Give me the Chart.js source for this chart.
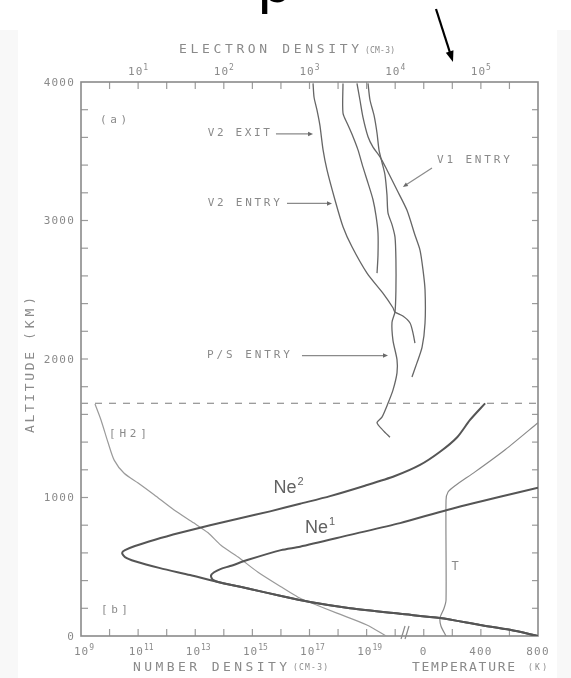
<!DOCTYPE html>
<html>
<head>
<meta charset="utf-8">
<title>Electron and neutral density profiles</title>
<script src="https://cdn.jsdelivr.net/npm/chart.js@4.4.1/dist/chart.umd.min.js"></script>
<style>
  html, body { margin: 0; padding: 0; background: #ffffff; }
  #wrap { width: 571px; height: 678px; }
  canvas { display: block; }
</style>
</head>
<body>
<div id="wrap"><canvas id="profile" width="571" height="678"></canvas></div>
<script>
// ---------- Panel (a): electron density profiles (cm^-3) against altitude (km) ----------
const v2ExitAltitude = [3990, 3890, 3800, 3690, 3510, 3365, 3150, 2955, 2810, 2620, 2475, 2370, 2340, 2310, 2260, 2190, 2115];
const v2ExitDensity  = [1100, 1130, 1220, 1320, 1440, 1600, 1980, 2460, 3130, 4690, 7190, 9420, 9930, 12300, 14900, 16100, 17000];

const v2EntryAltitude = [3990, 3775, 3690, 3605, 3510, 3385, 3270, 3150, 3035, 2910, 2750, 2620];
const v2EntryDensity  = [2460, 2460, 2810, 3220, 3680, 4210, 4820, 5510, 5970, 6300, 6300, 6140];

const v1EntryAltitude = [3990, 3870, 3745, 3605, 3530, 3460, 3365, 3220, 3075, 2895, 2785, 2645, 2500, 2260, 2085, 1970, 1870];
const v1EntryDensity  = [3580, 3880, 4210, 4820, 5510, 6650, 8020, 10500, 13700, 17000, 19500, 21100, 22300, 22300, 20600, 17900, 15700];

const psEntryAltitude = [3990, 3870, 3760, 3630, 3510, 3420, 3330, 3185, 3055, 2970, 2880, 2715, 2500, 2340, 2265, 2135, 1995, 1900, 1775, 1680, 1580, 1540, 1485, 1435];
const psEntryDensity  = [4820, 5080, 5660, 6140, 6470, 7010, 7600, 8020, 8240, 9180, 9950, 10200, 10200, 9950, 9180, 9420, 10500, 10500, 9420, 8240, 7010, 6140, 7210, 8690];

// ---------- Panel (b): model number densities (cm^-3) and temperature (K) ----------
const h2Altitude = [1675, 1560, 1395, 1270, 1175, 1105, 1020, 910, 815, 745, 655, 570, 460, 355, 280, 240, 165, 80, 0];
const h2Density  = [3.09e9, 5.01e9, 8.91e9, 1.45e10, 3.24e10, 1.0e11, 3.63e11, 1.82e12, 9.12e12, 2.82e13, 7.94e13, 3.16e14, 1.58e15, 1.0e16, 3.98e16, 1.12e17, 9.12e17, 1.02e19, 4.79e19];

const ne2Altitude = [1680, 1560, 1435, 1330, 1235, 1155, 1085, 1010, 955, 900, 850, 800, 745, 695, 650, 620, 600, 570, 540, 490, 440, 395, 340, 290, 245, 200, 160, 130, 80, 45, 0];
const ne2Density  = [1.41e23, 4.17e22, 1.48e22, 3.72e21, 7.41e20, 9.77e19, 8.71e18, 5.25e17, 4.68e16, 4.17e15, 3.72e14, 3.31e13, 2.95e12, 3.89e11, 7.76e10, 3.47e10, 2.75e10, 3.47e10, 7.76e10, 5.89e11, 6.61e12, 4.90e13, 8.32e14, 9.33e15, 1.05e17, 2.63e18, 1.48e20, 3.72e21, 9.33e22, 1.05e24, 1e25];

const ne1Altitude = [1070, 1005, 910, 815, 730, 645, 620, 550, 505, 485, 460, 435, 405, 385, 340, 290, 245, 200, 160, 130, 80, 45, 0];
const ne1Density  = [1e25, 4.68e23, 6.61e21, 1.48e20, 2.63e18, 4.68e16, 1.0e16, 7.08e14, 1.66e14, 7.94e13, 4.57e13, 3.55e13, 4.17e13, 7.94e13, 8.32e14, 9.33e15, 1.05e17, 2.63e18, 1.48e20, 3.72e21, 9.33e22, 1.05e24, 1e25];

const temperatureAltitude = [1540, 1345, 1185, 1085, 1040, 980, 260, 200, 130, 70, 0];
const temperatureValues   = [800, 570, 359, 219, 170, 156, 156, 142, 114, 121, 156];

const boundaryAltitude = 1680;

// ---------- Axis ranges and tick labels ----------
const altitudeLimits = [0, 4000];
const altitudeLabels = [0, 1000, 2000, 3000, 4000];
const altitudeStep = 200;

const electronDensityLimits = [Math.pow(10, 1 / 3), Math.pow(10, 17 / 3)];
const electronDensityLabelExponents = [1, 2, 3, 4, 5];
const electronDensityTicksPerDecade = 3;

const numberDensityLimits = [1e9, 1e25];
const numberDensityLabelExponents = [9, 11, 13, 15, 17, 19];
const numberDensityTickExponents = [10, 11, 12, 13, 14, 15, 16, 17, 18, 19, 20];

const temperatureLimits = [-2400, 800];
const temperatureLabels = [0, 400, 800];
const temperatureStep = 200;

// Text annotations placed in data units of the axis they belong to
const curveLabels = [
  { text: 'V2 EXIT',   axis: 'xE', x: 65,    y: 3632, width: 62 },
  { text: 'V2 ENTRY',  axis: 'xE', x: 65,    y: 3126, width: 72 },
  { text: 'V1 ENTRY',  axis: 'xE', x: 30700, y: 3437, width: 73 },
  { text: 'P/S ENTRY', axis: 'xE', x: 63.6,  y: 2029, width: 83 },
  { text: '(a)',       axis: 'xE', x: 3.59,  y: 3726, width: 27 },
  { text: '[b]',       axis: 'xN', x: 5.0e9, y: 188,  width: 27 },
  { text: '[H2]',      axis: 'xN', x: 9.5e9, y: 1458, width: 38 }
];
const pointerArrows = [
  { axis: 'xE', from: [406, 3625],   to: [1100, 3625] },
  { axis: 'xE', from: [546, 3123],   to: [1830, 3123] },
  { axis: 'xE', from: [26900, 3379], to: [12300, 3242] },
  { axis: 'xE', from: [817, 2025],   to: [8240, 2025] }
];
const speciesLabels = [
  { base: 'Ne', sup: '2', axis: 'xN', x: 1.84e16, y: 1069 },
  { base: 'Ne', sup: '1', axis: 'xN', x: 2.33e17, y: 780 },
  { base: 'T',  sup: '',  axis: 'xT', x: 220,     y: 498 }
];

const PLOT_FONT = '"DejaVu Sans Mono", "Liberation Mono", monospace';
const TEXT_GREY = '#8a8a8a';

function toPoints(xs, ys) { return xs.map((x, i) => ({ x: x, y: ys[i] })); }

function curve(label, xs, ys, axis, color, width) {
  return {
    label: label, data: toPoints(xs, ys), xAxisID: axis, yAxisID: 'y',
    borderColor: color, borderWidth: width, pointRadius: 0, fill: false, tension: 0.25
  };
}

const datasets = [
  curve('V2 exit', v2ExitDensity, v2ExitAltitude, 'xE', '#666666', 1.3),
  curve('V2 entry', v2EntryDensity, v2EntryAltitude, 'xE', '#666666', 1.3),
  curve('V1 entry', v1EntryDensity, v1EntryAltitude, 'xE', '#666666', 1.3),
  curve('P/S entry', psEntryDensity, psEntryAltitude, 'xE', '#666666', 1.3),
  curve('Ne2', ne2Density, ne2Altitude, 'xN', '#555555', 2.0),
  curve('Ne1', ne1Density, ne1Altitude, 'xN', '#555555', 2.0),
  curve('[H2]', h2Density, h2Altitude, 'xN', '#9a9a9a', 1.2),
  curve('T', temperatureValues, temperatureAltitude, 'xT', '#8a8a8a', 1.2),
  {
    label: 'boundary', xAxisID: 'xN', yAxisID: 'y',
    data: toPoints(numberDensityLimits, [boundaryAltitude, boundaryAltitude]),
    borderColor: '#9a9a9a', borderWidth: 1.3, borderDash: [7, 7],
    pointRadius: 0, fill: false, tension: 0
  }
];

// Writes text stretched to a given width, like a pen-plotter lettering
function spacedText(ctx, text, x, y, width, size) {
  ctx.font = size + 'px ' + PLOT_FONT;
  ctx.letterSpacing = '0px';
  const w0 = ctx.measureText(text).width;
  const ls = text.length > 1 ? (width - w0) / (text.length - 1) : 0;
  ctx.letterSpacing = ls + 'px';
  ctx.textAlign = 'left';
  ctx.textBaseline = 'middle';
  ctx.fillText(text, x, y);
  ctx.letterSpacing = '0px';
}

function powerLabel(ctx, exponent, cx, cy) {
  ctx.textAlign = 'left';
  ctx.textBaseline = 'middle';
  ctx.font = '11px ' + PLOT_FONT;
  ctx.letterSpacing = '1px';
  const bw = ctx.measureText('10').width;
  ctx.font = '8px ' + PLOT_FONT;
  ctx.letterSpacing = '0px';
  const sup = String(exponent);
  const sw = ctx.measureText(sup).width;
  const x0 = cx - (bw + sw) / 2;
  ctx.font = '11px ' + PLOT_FONT;
  ctx.letterSpacing = '1px';
  ctx.fillText('10', x0, cy);
  ctx.font = '8px ' + PLOT_FONT;
  ctx.letterSpacing = '0px';
  ctx.fillText(sup, x0 + bw, cy - 4);
}

function drawArrow(ctx, x0, y0, x1, y1, head, half) {
  const dx = x1 - x0, dy = y1 - y0, len = Math.hypot(dx, dy);
  const ux = dx / len, uy = dy / len;
  ctx.beginPath();
  ctx.moveTo(x0, y0);
  ctx.lineTo(x1 - ux * head * 0.6, y1 - uy * head * 0.6);
  ctx.stroke();
  ctx.beginPath();
  ctx.moveTo(x1, y1);
  ctx.lineTo(x1 - ux * head - uy * half, y1 - uy * head + ux * half);
  ctx.lineTo(x1 - ux * head + uy * half, y1 - uy * head - ux * half);
  ctx.closePath();
  ctx.fill();
}

const decor = {
  id: 'decor',
  beforeDraw(chart) {
    const ctx = chart.ctx;
    ctx.save();
    ctx.fillStyle = '#ffffff';
    ctx.fillRect(0, 0, chart.width, chart.height);
    ctx.fillStyle = '#f8f8f8';
    ctx.fillRect(0, 30, 18, chart.height - 30);
    ctx.fillRect(557, 30, chart.width - 557, chart.height - 30);
    ctx.restore();
  },
  beforeDatasetsDraw(chart) {
    const ctx = chart.ctx, ca = chart.chartArea, s = chart.scales;
    const seg = (x0, y0, x1, y1) => { ctx.beginPath(); ctx.moveTo(x0, y0); ctx.lineTo(x1, y1); ctx.stroke(); };
    ctx.save();
    ctx.strokeStyle = '#9b9b9b';
    ctx.lineWidth = 1.2;
    for (let a = altitudeLimits[0] + altitudeStep; a < altitudeLimits[1]; a += altitudeStep) {
      const py = s.y.getPixelForValue(a);
      seg(ca.left, py, ca.left + 7, py);
      seg(ca.right, py, ca.right - 6, py);
    }
    const lo = Math.round(Math.log10(electronDensityLimits[0]) * electronDensityTicksPerDecade);
    const hi = Math.round(Math.log10(electronDensityLimits[1]) * electronDensityTicksPerDecade);
    for (let j = lo + 1; j < hi; j++) {
      const px = s.xE.getPixelForValue(Math.pow(10, j / electronDensityTicksPerDecade));
      seg(px, ca.top, px, ca.top + 7);
    }
    for (const e of numberDensityTickExponents) {
      const px = s.xN.getPixelForValue(Math.pow(10, e));
      seg(px, ca.bottom, px, ca.bottom - 7);
    }
    for (let t = temperatureLabels[0]; t < temperatureLimits[1]; t += temperatureStep) {
      const px = s.xT.getPixelForValue(t);
      seg(px, ca.bottom, px, ca.bottom - 7);
    }
    // axis break between the density and temperature scales
    const bx = s.xN.getPixelForValue(Math.pow(10, 20.38));
    ctx.strokeStyle = '#8a8a8a';
    seg(bx - 5, ca.bottom + 3, bx - 1, ca.bottom - 10);
    seg(bx - 1, ca.bottom + 3, bx + 3, ca.bottom - 10);
    ctx.strokeStyle = '#8a8a8a';
    ctx.lineWidth = 1.6;
    ctx.strokeRect(ca.left, ca.top, ca.right - ca.left, ca.bottom - ca.top);
    ctx.restore();
  },
  afterDraw(chart) {
    const ctx = chart.ctx, ca = chart.chartArea, s = chart.scales;
    ctx.save();
    ctx.fillStyle = TEXT_GREY;

    // left altitude labels
    ctx.font = '11px ' + PLOT_FONT;
    ctx.letterSpacing = '1.2px';
    ctx.textAlign = 'right';
    ctx.textBaseline = 'middle';
    for (const a of altitudeLabels) {
      ctx.fillText(String(a), ca.left - 6, s.y.getPixelForValue(a) + 1);
    }
    ctx.letterSpacing = '0px';

    // top electron density labels
    for (const e of electronDensityLabelExponents) {
      powerLabel(ctx, e, s.xE.getPixelForValue(Math.pow(10, e)), ca.top - 10);
    }
    // bottom number density and temperature labels
    for (const e of numberDensityLabelExponents) {
      powerLabel(ctx, e, s.xN.getPixelForValue(Math.pow(10, e)) + 3, ca.bottom + 16);
    }
    ctx.font = '11px ' + PLOT_FONT;
    ctx.letterSpacing = '1.2px';
    ctx.textAlign = 'center';
    for (const t of temperatureLabels) {
      ctx.fillText(String(t), s.xT.getPixelForValue(t), ca.bottom + 16);
    }
    ctx.letterSpacing = '0px';

    // axis titles
    spacedText(ctx, 'ELECTRON DENSITY', 179, ca.top - 32, 180, 13);
    spacedText(ctx, '(CM-3)', 365, ca.top - 31, 30, 8);
    spacedText(ctx, 'NUMBER DENSITY', 133, ca.bottom + 32, 154, 13);
    spacedText(ctx, '(CM-3)', 293, ca.bottom + 32, 35, 8);
    spacedText(ctx, 'TEMPERATURE', 412, ca.bottom + 32, 103, 13);
    spacedText(ctx, '(K)', 528, ca.bottom + 32, 19, 8);
    ctx.save();
    ctx.translate(31, 433);
    ctx.rotate(-Math.PI / 2);
    spacedText(ctx, 'ALTITUDE', 0, 0, 81, 13);
    spacedText(ctx, '(KM)', 93, 0, 43, 13);
    ctx.restore();

    // curve names and panel letters
    for (const l of curveLabels) {
      spacedText(ctx, l.text, s[l.axis].getPixelForValue(l.x), s.y.getPixelForValue(l.y), l.width, 11);
    }
    ctx.strokeStyle = '#8a8a8a';
    ctx.fillStyle = '#6a6a6a';
    ctx.lineWidth = 1.2;
    for (const p of pointerArrows) {
      const sc = s[p.axis];
      drawArrow(ctx, sc.getPixelForValue(p.from[0]), s.y.getPixelForValue(p.from[1]),
        sc.getPixelForValue(p.to[0]), s.y.getPixelForValue(p.to[1]), 5, 2.2);
    }

    // species labels
    for (const l of speciesLabels) {
      const cx = s[l.axis].getPixelForValue(l.x), cy = s.y.getPixelForValue(l.y);
      if (l.sup) {
        ctx.fillStyle = '#626262';
        ctx.font = '18px "Liberation Sans", Arial, sans-serif';
        const bw = ctx.measureText(l.base).width;
        ctx.font = '11px "Liberation Sans", Arial, sans-serif';
        const sw = ctx.measureText(l.sup).width;
        const x0 = cx - (bw + sw + 1) / 2;
        ctx.textAlign = 'left';
        ctx.textBaseline = 'middle';
        ctx.font = '18px "Liberation Sans", Arial, sans-serif';
        ctx.fillText(l.base, x0, cy);
        ctx.font = '11px "Liberation Sans", Arial, sans-serif';
        ctx.fillText(l.sup, x0 + bw + 1, cy - 6);
      } else {
        ctx.fillStyle = TEXT_GREY;
        ctx.font = '12px ' + PLOT_FONT;
        ctx.textAlign = 'center';
        ctx.textBaseline = 'middle';
        ctx.fillText(l.base, cx, cy);
      }
    }

    // heading fragment and pointer above the figure: only the descender of the line shows
    ctx.fillStyle = '#000000';
    ctx.strokeStyle = '#000000';
    ctx.font = '60px "Liberation Sans", Arial, sans-serif';
    ctx.textAlign = 'left';
    ctx.textBaseline = 'alphabetic';
    const pm = ctx.measureText('p');
    const descent = pm.actualBoundingBoxDescent || 12.6;
    ctx.fillText('p', 258, 14 - descent);
    ctx.lineWidth = 2.2;
    drawArrow(ctx, 436, 9, 453, 62, 11, 4);
    ctx.restore();
  }
};

new Chart(document.getElementById('profile'), {
  type: 'line',
  data: { datasets: datasets },
  options: {
    responsive: false,
    animation: false,
    devicePixelRatio: 1,
    events: [],
    layout: { padding: { left: 81, right: 33, top: 82, bottom: 42 } },
    plugins: { legend: { display: false }, tooltip: { enabled: false }, title: { display: false } },
    scales: {
      y:  { type: 'linear', min: altitudeLimits[0], max: altitudeLimits[1], display: false, bounds: 'data' },
      xE: { type: 'logarithmic', position: 'top', min: electronDensityLimits[0], max: electronDensityLimits[1], display: false, bounds: 'data' },
      xN: { type: 'logarithmic', position: 'bottom', min: numberDensityLimits[0], max: numberDensityLimits[1], display: false, bounds: 'data' },
      xT: { type: 'linear', position: 'bottom', min: temperatureLimits[0], max: temperatureLimits[1], display: false, bounds: 'data' }
    }
  },
  plugins: [decor]
});
</script>
</body>
</html>
